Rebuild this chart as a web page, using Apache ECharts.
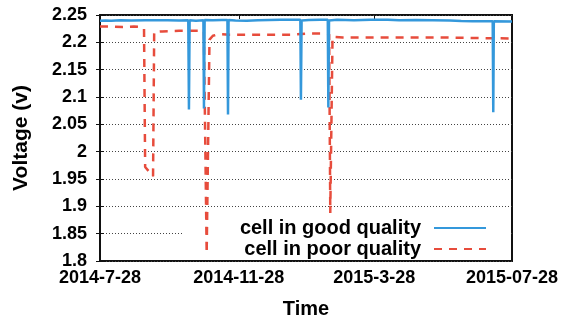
<!DOCTYPE html>
<html>
<head>
<meta charset="utf-8">
<script src="https://cdn.jsdelivr.net/npm/echarts@6/dist/echarts.min.js"></script>
<style>
  html, body { margin: 0; padding: 0; background: #fff; }
  #chart { width: 574px; height: 324px; }
</style>
</head>
<body>
<div id="chart"></div>
<script>
// x values are days since 2014-07-28
const tickDays = [0, 123, 243, 365]
const tickLabels = ['2014-7-28', '2014-11-28', '2015-3-28', '2015-07-28']
const seriesNames = ['cell in good quality', 'cell in poor quality']

const goodCell = [
  [0, 2.2395], [5, 2.2400], [10, 2.2395], [18, 2.2405], [28, 2.2400], [40, 2.2405],
  [50, 2.2405], [60, 2.2405], [70, 2.2400], [78.2, 2.2405], [78.8, 2.077], [79.4, 2.2405],
  [85, 2.2395], [91.6, 2.2405], [92.1, 2.079], [92.7, 2.241], [100, 2.2405], [108, 2.2410],
  [112.9, 2.241], [113.4, 2.068], [113.9, 2.241], [120, 2.2400], [130, 2.2395], [140, 2.2405],
  [150, 2.2410], [160, 2.2415], [170, 2.2415], [177.5, 2.2415], [178, 2.095], [178.6, 2.2400],
  [185, 2.2410], [195, 2.2415], [201.8, 2.2415], [202.3, 2.081], [202.9, 2.2400], [210, 2.2415],
  [225, 2.2405], [240, 2.2415], [255, 2.2415], [265, 2.2405], [280, 2.2410], [295, 2.2405],
  [310, 2.2400], [320, 2.2390], [330, 2.2385], [340, 2.2385], [347.9, 2.2385], [348.4, 2.072],
  [348.9, 2.2385], [365, 2.2383]
]

const poorCell = [
  [0, 2.229], [10, 2.229], [20, 2.228], [30, 2.229], [37, 2.228], [39, 2.225],
  [40, 1.972], [47, 1.955], [48, 2.219], [55, 2.220], [70, 2.221], [80, 2.221],
  [92, 2.221], [93, 2.218], [94.5, 1.814], [95.5, 1.814], [97, 2.205], [100, 2.212],
  [105, 2.215], [115, 2.214], [130, 2.214], [150, 2.214], [170, 2.214], [185, 2.216],
  [200, 2.216], [203, 2.215], [204, 1.888], [205, 1.888], [206, 2.210], [215, 2.209],
  [240, 2.209], [270, 2.209], [300, 2.209], [330, 2.208], [345, 2.2075], [365, 2.207]
]

const font = 'Liberation Sans, Arial, Helvetica, sans-serif'
const chart = echarts.init(document.getElementById('chart'))

chart.setOption({
  animation: false,
  grid: {
    left: 100, right: 62, top: 15, bottom: 61,
    show: true,
    borderColor: '#111',
    borderWidth: 2
  },
  legend: {
    data: seriesNames,
    orient: 'vertical',
    align: 'right',
    right: 63,
    bottom: 64,
    z: 1,
    backgroundColor: '#fff',
    padding: [11, 24, 1, 56],
    itemGap: 1,
    itemWidth: 52,
    itemHeight: 14,
    itemStyle: { opacity: 0 },
    textStyle: {
      fontFamily: font,
      fontWeight: 'bold',
      fontSize: 20,
      color: '#000',
      width: 186,
      align: 'right',
      padding: [0, 8, 0, 0]
    }
  },
  xAxis: [
    {
      type: 'value',
      min: 0,
      max: 365,
      name: 'Time',
      nameLocation: 'middle',
      nameGap: 38,
      nameTextStyle: { fontFamily: font, fontWeight: 'bold', fontSize: 20, color: '#000' },
      axisLine: { show: false },
      splitLine: { show: false },
      axisTick: { inside: true, length: 4, customValues: tickDays, lineStyle: { color: '#111' } },
      axisLabel: {
        customValues: tickDays,
        margin: 8,
        fontFamily: font,
        fontWeight: 'bold',
        fontSize: 18,
        color: '#000',
        formatter: v => tickLabels[tickDays.indexOf(v)]
      }
    },
    {
      type: 'value',
      position: 'top',
      min: 0,
      max: 365,
      axisLine: { show: false },
      splitLine: { show: false },
      axisLabel: { show: false },
      axisTick: { inside: true, length: 4, customValues: tickDays, lineStyle: { color: '#111' } }
    }
  ],
  yAxis: [
    {
      type: 'value',
      min: 1.8,
      max: 2.25,
      interval: 0.05,
      name: 'Voltage (v)',
      nameLocation: 'middle',
      nameGap: 68,
      nameTextStyle: { fontFamily: font, fontWeight: 'bold', fontSize: 21, color: '#000' },
      axisLine: { show: false },
      axisTick: { inside: true, length: 4, lineStyle: { color: '#111' } },
      splitLine: { lineStyle: { type: [1, 2], color: '#444', width: 1 } },
      axisLabel: {
        margin: 13,
        fontFamily: font,
        fontWeight: 'bold',
        fontSize: 18,
        color: '#000',
        formatter: v => String(parseFloat(v.toFixed(2)))
      }
    },
    {
      type: 'value',
      position: 'right',
      min: 1.8,
      max: 2.25,
      interval: 0.05,
      axisLine: { show: false },
      splitLine: { show: false },
      axisLabel: { show: false },
      axisTick: { inside: true, length: 4, lineStyle: { color: '#111' } }
    }
  ],
  series: [
    {
      name: seriesNames[0],
      type: 'line',
      data: goodCell,
      symbol: 'none',
      z: 3,
      lineStyle: { color: '#3498db', width: 2.5 },
      itemStyle: { color: '#3498db' }
    },
    {
      name: seriesNames[1],
      type: 'line',
      data: poorCell,
      symbol: 'none',
      z: 2,
      lineStyle: { color: '#e74c3c', width: 2.5, type: [8, 7] },
      itemStyle: { color: '#e74c3c' }
    }
  ]
})
</script>
</body>
</html>
